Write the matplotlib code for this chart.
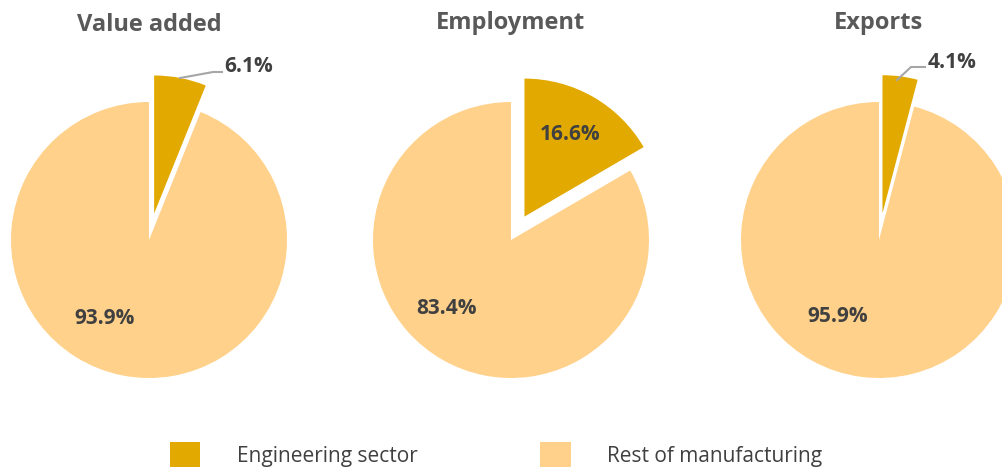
import matplotlib
matplotlib.use("Agg")
import matplotlib.pyplot as plt
import numpy as np

titles = ["Value added", "Employment", "Exports"]
engineering = [6.1, 16.6, 4.1]
rest = [93.9, 83.4, 95.9]
series_names = ["Engineering sector", "Rest of manufacturing"]
colors = ["#E2A900", "#FFD18A"]

W, H = 1003, 471
fig = plt.figure(figsize=(W / 100, H / 100), dpi=100)
ax = fig.add_axes([0, 0, 1, 1])

centers = [(149, H - 240), (511, H - 240), (879, H - 240)]
radius = 138
explode_d = 27
title_y = [H - 25, H - 23, H - 23]
font = "Open Sans"
txtc = "#404040"

# label placement (offsets from the centre, pixels)
rest_off = [(-44, -78), (-64, -68), (-41, -76)]
eng_lab = [("out", (224, H - 67)), ("in", (570, H - 135)), ("out", (928, H - 62))]
leaders = [[(180, H - 78), (213, H - 72), (222, H - 72)], None,
           [(897, H - 80), (911, H - 67), (925, H - 67)]]

wedges_all = []
for i in range(3):
    cx, cy = centers[i]
    wedges, _ = ax.pie([engineering[i], rest[i]], colors=colors,
                       startangle=90, counterclock=False,
                       center=(cx, cy), radius=radius,
                       explode=[explode_d, 0], frame=True)
    wedges_all.append(wedges)
    ax.text(cx, title_y[i], titles[i], ha="center", va="center",
            fontsize=17, fontweight="bold", color="#595959", family=font)
    dx, dy = rest_off[i]
    ax.text(cx + dx, cy + dy, f"{rest[i]:.1f}%", ha="center", va="center",
            fontsize=15, fontweight="bold", color=txtc, family=font)
    kind, (tx, ty) = eng_lab[i]
    if kind == "in":
        ax.text(tx, ty, f"{engineering[i]:.1f}%", ha="center", va="center",
                fontsize=15, fontweight="bold", color=txtc, family=font)
    else:
        ax.text(tx, ty, f"{engineering[i]:.1f}%", ha="left", va="center",
                fontsize=15, fontweight="bold", color=txtc, family=font)
        pts = np.array(leaders[i])
        ax.plot(pts[:, 0], pts[:, 1], color="#A6A6A6", lw=1.5)

ax.set_xlim(0, W)
ax.set_ylim(0, H)
ax.set_aspect("equal")
ax.axis("off")

leg = ax.legend(wedges_all[0], series_names, loc="lower left",
                bbox_to_anchor=(170 / W, 4 / H), ncol=2, frameon=False,
                prop={"family": font, "size": 15},
                labelcolor="#404040", handlelength=1.45, handleheight=1.45,
                handletextpad=1.75, columnspacing=5.9, borderaxespad=0,
                borderpad=0)
plt.savefig("out.png", dpi=100)
